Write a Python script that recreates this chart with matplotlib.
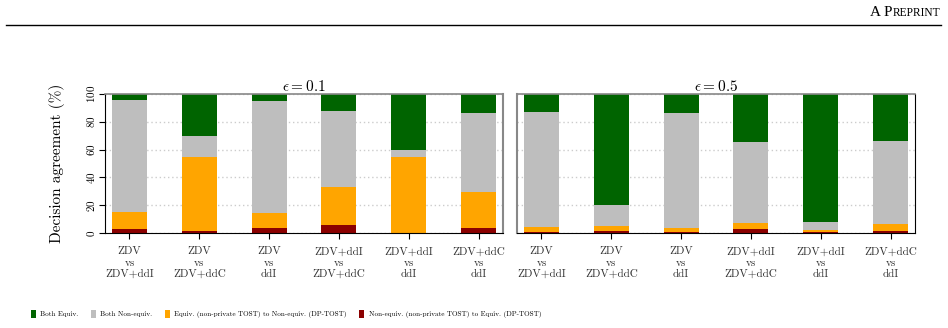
import matplotlib
matplotlib.use("Agg")
import matplotlib.pyplot as plt
import numpy as np

plt.rcParams['font.family'] = ['cmr10', 'DejaVu Serif']
plt.rcParams['mathtext.fontset'] = 'cm'
plt.rcParams['axes.formatter.use_mathtext'] = True

pairs = ["ZDV\nvs\nZDV+ddI", "ZDV\nvs\nZDV+ddC", "ZDV\nvs\nddI",
         "ZDV+ddI\nvs\nZDV+ddC", "ZDV+ddI\nvs\nddI", "ZDV+ddC\nvs\nddI"]
titles = [r"$\epsilon = 0.1$", r"$\epsilon = 0.5$"]

# stack order bottom -> top: red, orange, gray, green (%)
noneq_to_eq = [[3.1, 1.7, 3.8, 6.0, 0.3, 3.8],
               [1.0, 1.7, 1.0, 3.1, 0.5, 1.7]]
eq_to_noneq = [[12.2, 53.1, 10.8, 27.3, 54.5, 25.9],
               [3.5, 3.6, 2.8, 4.3, 1.9, 5.0]]
both_noneq = [[80.4, 15.1, 80.4, 54.5, 5.0, 56.7],
              [82.6, 15.0, 82.6, 58.2, 5.7, 59.6]]
both_eq = [[100 - a - b - c for a, b, c in zip(r, o, g)]
           for r, o, g in zip(noneq_to_eq, eq_to_noneq, both_noneq)]

labels = ["Both Equiv.", "Both Non-equiv.",
          "Equiv. (non-private TOST) to Non-equiv. (DP-TOST)",
          "Non-equiv. (non-private TOST) to Equiv. (DP-TOST)"]
colors = ["#006400", "#bebebe", "#ffa500", "#8b0000"]

fig = plt.figure(figsize=(9.48, 3.28), dpi=100)
W, H = 948, 328
bottom = 1 - 233 / H
height = (233 - 94) / H
ax1 = fig.add_axes([105 / W, bottom, 398 / W, height])
ax2 = fig.add_axes([517 / W, bottom, 398 / W, height])

x = np.arange(len(pairs))
handles = None
for i, ax in enumerate([ax1, ax2]):
    r = np.array(noneq_to_eq[i])
    o = np.array(eq_to_noneq[i])
    g = np.array(both_noneq[i])
    e = np.array(both_eq[i])
    b_r = ax.bar(x, r, 0.5, color=colors[3])
    b_o = ax.bar(x, o, 0.5, bottom=r, color=colors[2])
    b_g = ax.bar(x, g, 0.5, bottom=r + o, color=colors[1])
    b_e = ax.bar(x, e, 0.5, bottom=r + o + g, color=colors[0])
    if handles is None:
        handles = [b_e, b_g, b_o, b_r]
    ax.set_xlim(-0.35, 5.35)
    ax.set_ylim(0, 100)
    ax.set_xticks(x)
    ax.set_xticklabels(pairs, fontsize=8, color="#333333", linespacing=1.25)
    ax.set_yticks([0, 20, 40, 60, 80, 100])
    ax.set_axisbelow(True)
    ax.yaxis.grid(True, linestyle=(0, (1, 2)), color="#cccccc", linewidth=1)
    ax.set_title(titles[i], fontsize=11, pad=2)
    ax.tick_params(axis='x', length=4, width=0.8, pad=6)
    ax.spines['top'].set_color("#888888")
    ax.spines['top'].set_linewidth(1.2)

ax1.spines['right'].set_color("#888888")
ax1.spines['right'].set_linewidth(1.5)
ax2.spines['left'].set_color("#888888")
ax2.spines['left'].set_linewidth(1.5)
ax1.tick_params(axis='y', length=4, width=0.8, labelsize=8, labelrotation=90, pad=2)
for t in ax1.get_yticklabels():
    t.set_va('center')
ax1.set_ylabel("Decision agreement (%)", fontsize=11, labelpad=14)
ax2.tick_params(axis='y', length=0, labelleft=False)

fig.legend(handles, labels, loc='center', bbox_to_anchor=(286 / W, 1 - 314 / H),
           ncol=4, frameon=False, fontsize=5.15, handlelength=0.7, handleheight=1.4,
           handletextpad=0.6, columnspacing=1.75)

# page header in small caps
fig.canvas.draw()
ren = fig.canvas.get_renderer()
t2 = fig.text(940 / W, 1 - 16 / H, "REPRINT", fontsize=8.3,
              family='Liberation Serif', va='baseline', ha='right')
bb = t2.get_window_extent(renderer=ren)
fig.text(bb.x0 / W, 1 - 16 / H, "A P", fontsize=11, family='Liberation Serif',
         va='baseline', ha='right')
fig.add_artist(plt.Line2D([6 / W, 941 / W], [1 - 25 / H, 1 - 25 / H],
                          color='black', linewidth=1.0))

fig.savefig("out.png", dpi=100)
